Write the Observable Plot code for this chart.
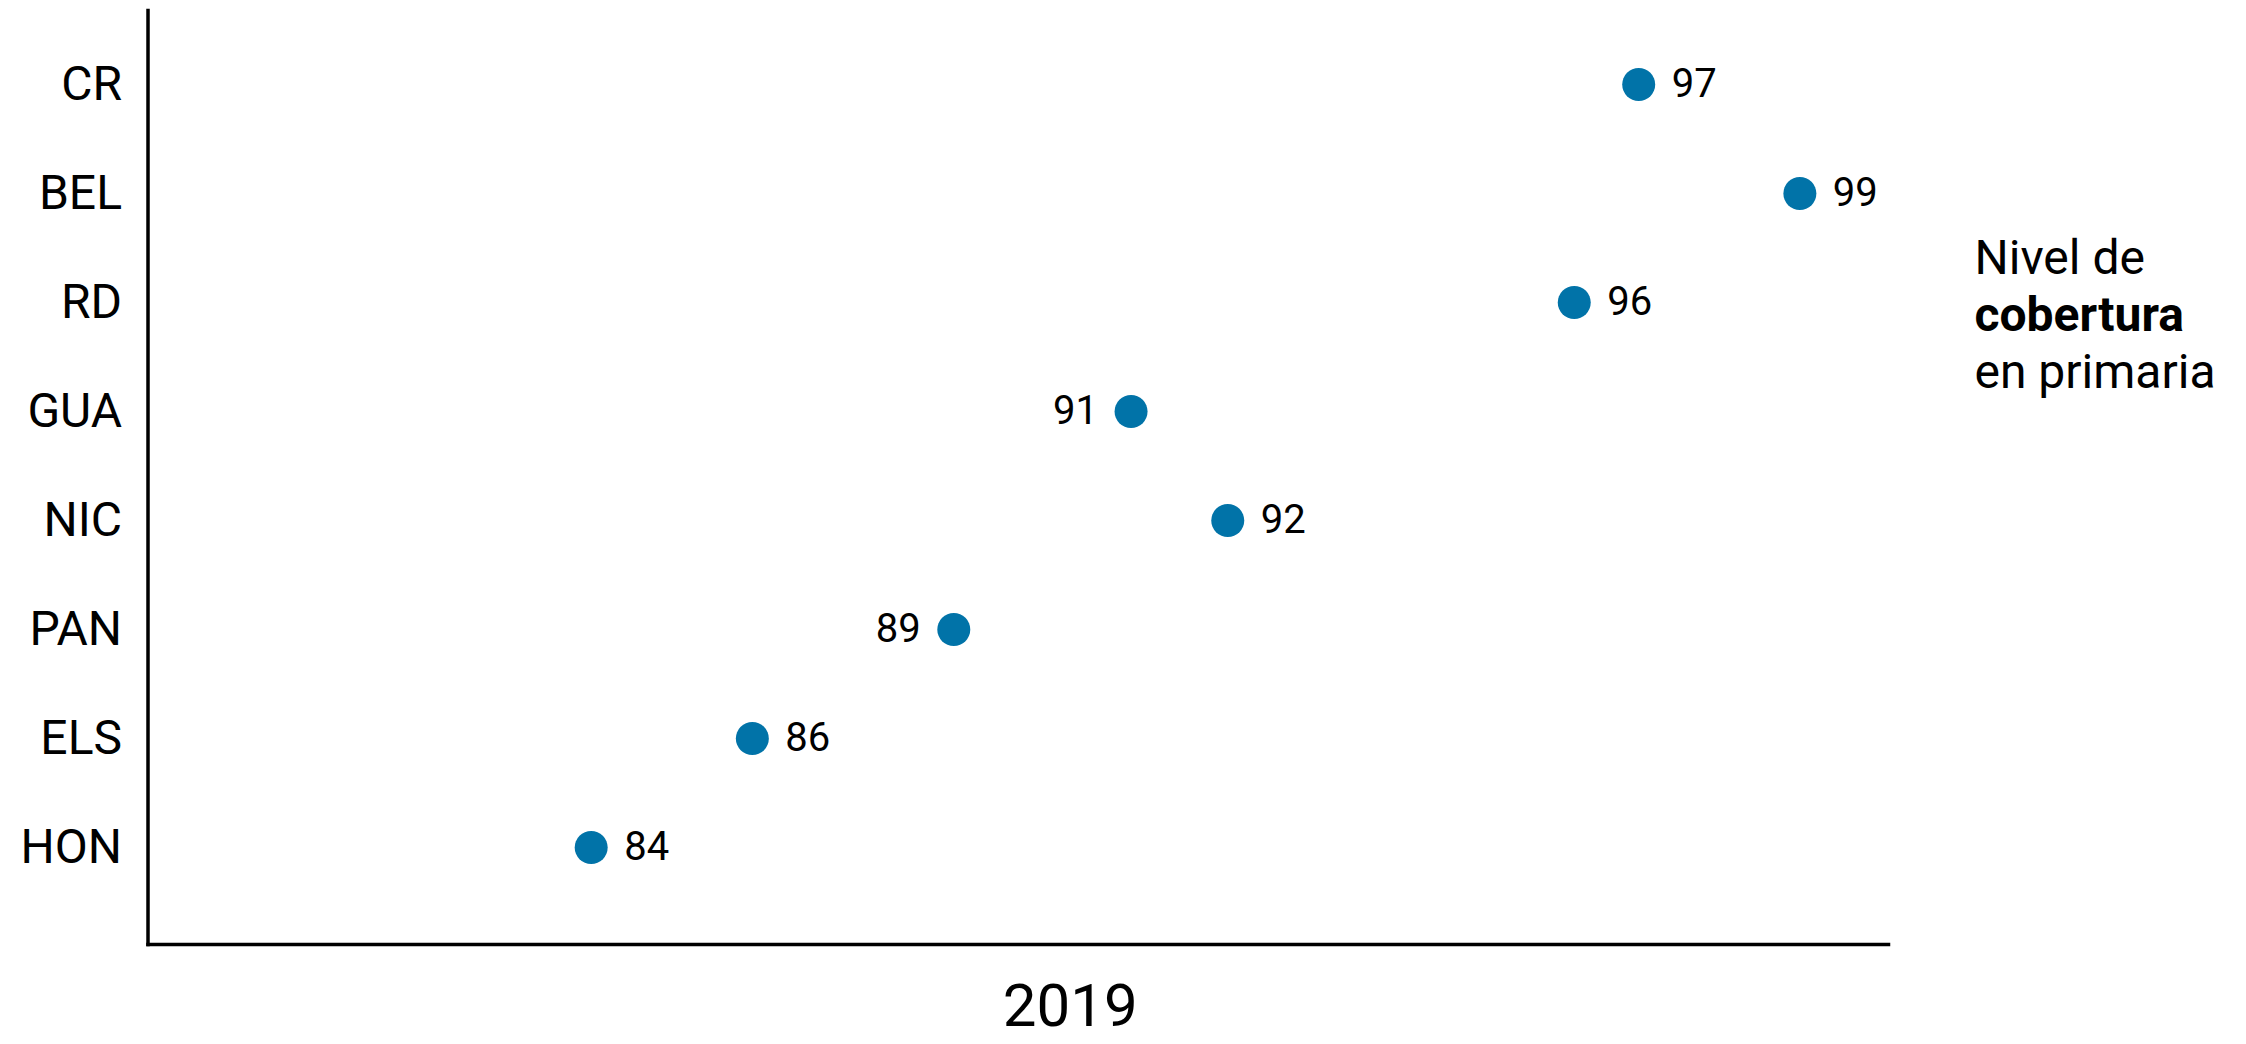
<!DOCTYPE html>
<html>
<head>
<meta charset="utf-8">
<script src="https://cdn.jsdelivr.net/npm/d3@7"></script>
<script src="https://cdn.jsdelivr.net/npm/@observablehq/plot@0.6"></script>
<style>
  html, body { margin: 0; padding: 0; background: #fff; }
  #chart { width: 2246px; height: 1044px; }
</style>
</head>
<body>
<div id="chart"></div>
<script>
// Data
const countries = ["CR", "BEL", "RD", "GUA", "NIC", "PAN", "ELS", "HON"];
const coverage = [97, 99, 96.2, 90.7, 91.9, 88.5, 86, 84];
const valueLabels = ["97", "99", "96", "91", "92", "89", "86", "84"];
const yearLabel = "2019";
const noteLines = ["Nivel de", "cobertura", "en primaria"];

const data = countries.map((c, i) => ({country: c, value: coverage[i], label: valueLabels[i]}));
const leftLabeled = new Set(["GUA", "PAN"]);
const blue = "#0173a8";

const chart = Plot.plot({
  width: 2246,
  height: 1044,
  marginLeft: 147.5,
  marginRight: 358,
  marginTop: 10,
  marginBottom: 100,
  style: {fontFamily: "Roboto, 'Noto Sans', sans-serif", color: "#000", background: "#fff"},
  x: {domain: [78.5, 100.1], axis: null},
  y: {type: "point", domain: countries, padding: 0, insetTop: 73, insetBottom: 96, axis: null},
  marks: [
    Plot.axisY({tickSize: 0, tickPadding: 26, fontSize: 48, label: null}),
    Plot.frame({anchor: "left", stroke: "#000", strokeWidth: 3.5}),
    Plot.frame({anchor: "bottom", stroke: "#000", strokeWidth: 3.5}),
    Plot.dot(data, {x: "value", y: "country", r: 16.5, fill: blue}),
    Plot.text(data.filter(d => !leftLabeled.has(d.country)), {
      x: "value", y: "country", text: "label", dx: 33, textAnchor: "start", fontSize: 40, fill: "#000"
    }),
    Plot.text(data.filter(d => leftLabeled.has(d.country)), {
      x: "value", y: "country", text: "label", dx: -33, textAnchor: "end", fontSize: 40, fill: "#000"
    }),
    Plot.text([yearLabel], {
      frameAnchor: "bottom", lineAnchor: "middle", text: d => d, dx: 52, dy: 62, fontSize: 60, fill: "#000"
    }),
    Plot.text([noteLines[0]], {
      frameAnchor: "top-right", lineAnchor: "middle", text: d => d, dx: 86, dy: 248, textAnchor: "start", fontSize: 48, fill: "#000"
    }),
    Plot.text([noteLines[1]], {
      frameAnchor: "top-right", lineAnchor: "middle", text: d => d, dx: 86, dy: 305, textAnchor: "start", fontSize: 48, fontWeight: "bold", fill: "#000"
    }),
    Plot.text([noteLines[2]], {
      frameAnchor: "top-right", lineAnchor: "middle", text: d => d, dx: 86, dy: 362, textAnchor: "start", fontSize: 48, fill: "#000"
    })
  ]
});
document.getElementById("chart").append(chart);
</script>
</body>
</html>
